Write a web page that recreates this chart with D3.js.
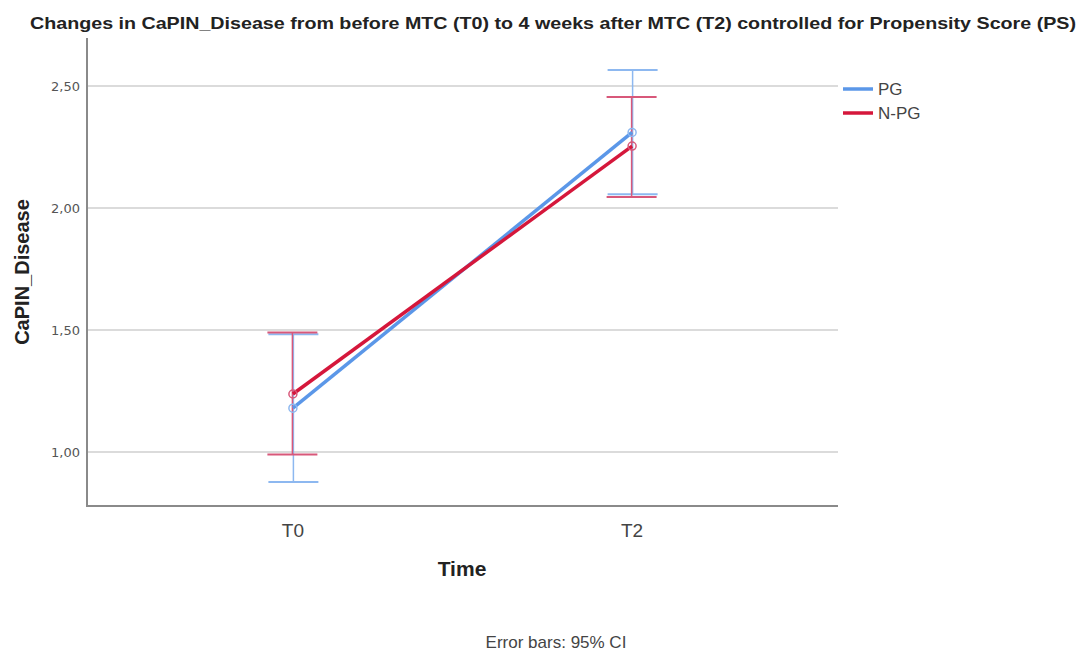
<!DOCTYPE html>
<html>
<head>
<meta charset="utf-8">
<script src="https://cdn.jsdelivr.net/npm/d3@7"></script>
<style>
body { margin: 0; background: #fff; }
svg { font-family: "Liberation Sans", Arial, sans-serif; }
</style>
</head>
<body>
<svg id="chart" width="1088" height="651"></svg>
<script>
const times = ["T0", "T2"];
const groups = ["PG", "N-PG"];
const pgMean = [1.18, 2.31];
const pgLow = [0.877, 2.057];
const pgHigh = [1.483, 2.566];
const npgMean = [1.238, 2.254];
const npgLow = [0.99, 2.045];
const npgHigh = [1.49, 2.455];
const yTicks = [1.0, 1.5, 2.0, 2.5];

const lineColor = { "PG": "#5b97e8", "N-PG": "#d5173b" };
const barColor = { "PG": "#8db8f0", "N-PG": "#d8587a" };

const series = [
    { name: "PG", mean: pgMean, low: pgLow, high: pgHigh },
    { name: "N-PG", mean: npgMean, low: npgLow, high: npgHigh }
];

const margin = { top: 38, left: 87, right: 250, bottom: 145 };
const width = 1088, height = 651;

const svg = d3.select("#chart");

const x = d3.scalePoint()
    .domain(times)
    .range([margin.left, width - margin.right])
    .padding(0.607);

const y = d3.scaleLinear()
    .domain([0.779, 2.697])
    .range([height - margin.bottom, margin.top]);

// gridlines
svg.append("g")
    .selectAll("line")
    .data(yTicks)
    .enter()
    .append("line")
    .attr("x1", margin.left)
    .attr("x2", width - margin.right)
    .attr("y1", d => y(d))
    .attr("y2", d => y(d))
    .attr("stroke", "#cfcfcf")
    .attr("stroke-width", 1.5);

// tick labels
svg.append("g")
    .selectAll("text")
    .data(yTicks)
    .enter()
    .append("text")
    .attr("x", margin.left - 7)
    .attr("y", d => y(d))
    .attr("dy", "0.35em")
    .attr("text-anchor", "end")
    .attr("font-family", "DejaVu Sans")
    .attr("font-size", 13)
    .attr("fill", "#555")
    .text(d => d3.format(".2f")(d).replace(".", ","));

svg.append("g")
    .selectAll("text")
    .data(times)
    .enter()
    .append("text")
    .attr("x", d => x(d))
    .attr("y", height - margin.bottom + 31)
    .attr("text-anchor", "middle")
    .attr("font-size", 19)
    .attr("fill", "#444")
    .text(d => d);

// axes lines
svg.append("path")
    .attr("d", `M${margin.left},${margin.top} V${height - margin.bottom} H${width - margin.right}`)
    .attr("fill", "none")
    .attr("stroke", "#8a8a8a")
    .attr("stroke-width", 2);

// error bars
const capW = 25;
series.forEach((s, si) => {
    const dx = si === 0 ? 1 : -1;
    const g = svg.append("g");
    times.forEach((t, i) => {
        const cx = x(t) + dx * 0.5;
        g.append("line")
            .attr("x1", cx).attr("x2", cx)
            .attr("y1", y(s.low[i])).attr("y2", y(s.high[i]))
            .attr("stroke", barColor[s.name]).attr("stroke-width", 1.5);
        [s.low[i], s.high[i]].forEach(v => {
            g.append("line")
                .attr("x1", cx - capW).attr("x2", cx + capW)
                .attr("y1", y(v)).attr("y2", y(v))
                .attr("stroke", barColor[s.name]).attr("stroke-width", 2);
        });
    });
});

// lines and markers
const line = d3.line()
    .x((d, i) => x(times[i]))
    .y(d => y(d));

series.forEach(s => {
    svg.append("path")
        .datum(s.mean)
        .attr("d", line)
        .attr("fill", "none")
        .attr("stroke", lineColor[s.name])
        .attr("stroke-width", 3.5);
});

series.forEach(s => {
    svg.append("g")
        .selectAll("circle")
        .data(s.mean)
        .enter()
        .append("circle")
        .attr("cx", (d, i) => x(times[i]))
        .attr("cy", d => y(d))
        .attr("r", 4)
        .attr("fill", "none")
        .attr("stroke", barColor[s.name])
        .attr("stroke-width", 1.5);
});

// legend
const legend = svg.append("g")
    .selectAll("g")
    .data(groups)
    .enter()
    .append("g")
    .attr("transform", (d, i) => `translate(843, ${89 + i * 24})`);

legend.append("line")
    .attr("x1", 0).attr("x2", 30)
    .attr("y1", 0).attr("y2", 0)
    .attr("stroke", d => lineColor[d])
    .attr("stroke-width", 3.5);

legend.append("text")
    .attr("x", 35)
    .attr("dy", "0.36em")
    .attr("font-size", 17)
    .attr("fill", "#444")
    .text(d => d);

// titles
svg.append("text")
    .attr("x", 553)
    .attr("y", 29)
    .attr("text-anchor", "middle")
    .attr("font-size", 17)
    .attr("font-weight", "bold")
    .attr("fill", "#222")
    .attr("textLength", 1046)
    .attr("lengthAdjust", "spacingAndGlyphs")
    .text("Changes in CaPIN_Disease from before MTC (T0) to 4 weeks after MTC (T2) controlled for Propensity Score (PS)");

svg.append("text")
    .attr("transform", "translate(29, 272) rotate(-90)")
    .attr("text-anchor", "middle")
    .attr("font-size", 20)
    .attr("font-weight", "bold")
    .attr("fill", "#222")
    .text("CaPIN_Disease");

svg.append("text")
    .attr("x", 462)
    .attr("y", 576)
    .attr("text-anchor", "middle")
    .attr("font-size", 21)
    .attr("font-weight", "bold")
    .attr("fill", "#222")
    .text("Time");

svg.append("text")
    .attr("x", 556)
    .attr("y", 648)
    .attr("text-anchor", "middle")
    .attr("font-size", 17)
    .attr("fill", "#444")
    .text("Error bars: 95% CI");
</script>
</body>
</html>
